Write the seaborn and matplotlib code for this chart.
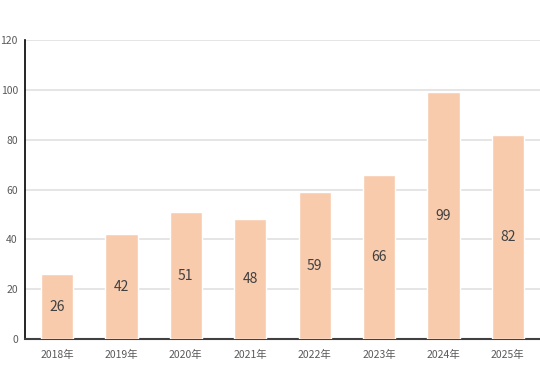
import matplotlib
matplotlib.use("Agg")
import matplotlib.pyplot as plt
import seaborn as sns
import pandas as pd

years = ["2018年", "2019年", "2020年", "2021年", "2022年", "2023年", "2024年", "2025年"]
values = [26, 42, 51, 48, 59, 66, 99, 82]
yticks = [0, 20, 40, 60, 80, 100, 120]

sns.set_theme(style="white")
plt.rcParams['font.family'] = ['Noto Sans CJK SC', 'DejaVu Sans']

df = pd.DataFrame({"year": years, "value": values})
fig = plt.figure(figsize=(5.4, 3.92), dpi=100)
ax = fig.add_axes([0.046, 0.135, 0.954, 0.763])
sns.barplot(data=df, x="year", y="value", color="#F8CBAD", width=0.5, saturation=1, ax=ax, zorder=3)
ax.set_ylim(0, 120)
ax.set_yticks(yticks)
ax.set_xlim(-0.5, len(years) - 0.5)
ax.grid(axis="y", color="#E0E0E0", linewidth=1.2, zorder=0)
ax.set_axisbelow(True)
ax.set_xlabel("")
ax.set_ylabel("")
for s in ["top", "right"]:
    ax.spines[s].set_visible(False)
ax.spines["left"].set_color("black")
ax.spines["left"].set_linewidth(1.2)
ax.spines["bottom"].set_color("#404040")
ax.spines["bottom"].set_linewidth(1.5)
ax.tick_params(axis="x", length=0, labelsize=7.5, colors="#595959", pad=8)
ax.tick_params(axis="y", length=0, labelsize=7.5, colors="#595959", pad=5)
for i, v in enumerate(values):
    ax.text(i, v / 2, str(v), ha="center", va="center", fontsize=10, color="#404040", zorder=4)
fig.savefig("out.png", dpi=100)
